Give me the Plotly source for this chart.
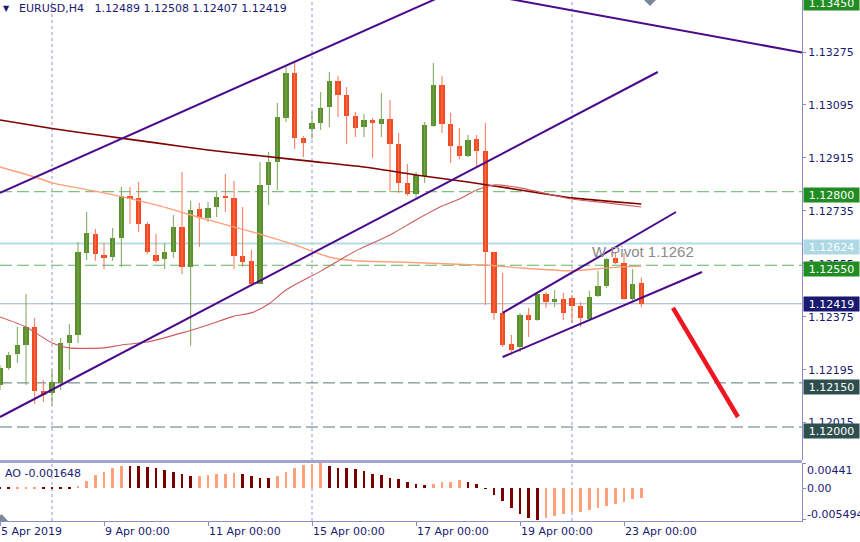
import numpy as np
import plotly.graph_objects as go

# ---------------- data ----------------
bars = list(range(75))
opens = [1.12143, 1.12201, 1.12248, 1.12279, 1.12340, 1.12123, 1.12116, 1.12150, 1.12286, 1.12313,
         1.12592, 1.12656, 1.12585, 1.12578, 1.12643, 1.12786, 1.12779, 1.12690, 1.12585, 1.12571,
         1.12595, 1.12680, 1.12544, 1.12741, 1.12711, 1.12748, 1.12786, 1.12779, 1.12582, 1.12565,
         1.12486, 1.12823, 1.12901, 1.13051, 1.13204, 1.12983, 1.13013, 1.13034, 1.13088, 1.13177,
         1.13129, 1.13058, 1.13020, 1.13044, 1.13030, 1.13047, 1.12962, 1.12830, 1.12792, 1.12854,
         1.13024, 1.13163, 1.13030, 1.12956, 1.12922, 1.12979, 1.12939, 1.12595, 1.12388, 1.12282,
         1.12272, 1.12381, 1.12364, 1.12452, 1.12425, 1.12435, 1.12439, 1.12412, 1.12367, 1.12446,
         1.12480, 1.12575, 1.12558, 1.12435, 1.12489]
highs = [1.12211, 1.12255, 1.12340, 1.12452, 1.12371, 1.12160, 1.12194, 1.12303, 1.12350, 1.12629,
         1.12731, 1.12673, 1.12626, 1.12677, 1.12816, 1.12816, 1.12833, 1.12697, 1.12656, 1.12626,
         1.12721, 1.12867, 1.12769, 1.12762, 1.12765, 1.12803, 1.12860, 1.12837, 1.12748, 1.12602,
         1.12901, 1.12935, 1.13102, 1.13224, 1.13238, 1.12990, 1.13071, 1.13139, 1.13207, 1.13194,
         1.13156, 1.13071, 1.13064, 1.13051, 1.13136, 1.13112, 1.13000, 1.12894, 1.12867, 1.13037,
         1.13238, 1.13194, 1.13068, 1.13017, 1.12993, 1.12993, 1.13034, 1.12595, 1.12524, 1.12313,
         1.12388, 1.12405, 1.12459, 1.12459, 1.12466, 1.12456, 1.12449, 1.12425, 1.12463, 1.12531,
         1.12575, 1.12592, 1.12592, 1.12537, 1.12508]
lows = [1.12126, 1.12194, 1.12218, 1.12143, 1.12078, 1.12085, 1.12075, 1.12126, 1.12194, 1.12286,
        1.12568, 1.12565, 1.12537, 1.12565, 1.12544, 1.12690, 1.12663, 1.12588, 1.12558, 1.12537,
        1.12575, 1.12520, 1.12276, 1.12612, 1.12697, 1.12714, 1.12731, 1.12537, 1.12544, 1.12480,
        1.12486, 1.12755, 1.12806, 1.13037, 1.12945, 1.12918, 1.12979, 1.13010, 1.13020, 1.13054,
        1.12962, 1.12986, 1.12986, 1.12915, 1.12986, 1.12799, 1.12796, 1.12786, 1.12779, 1.12830,
        1.13020, 1.13000, 1.12898, 1.12911, 1.12918, 1.12884, 1.12415, 1.12364, 1.12272, 1.12245,
        1.12255, 1.12306, 1.12361, 1.12405, 1.12408, 1.12364, 1.12354, 1.12340, 1.12367, 1.12442,
        1.12473, 1.12554, 1.12432, 1.12429, 1.12407]
closes = [1.12201, 1.12245, 1.12279, 1.12340, 1.12123, 1.12109, 1.12153, 1.12286, 1.12313, 1.12595,
          1.12660, 1.12588, 1.12575, 1.12643, 1.12786, 1.12775, 1.12690, 1.12595, 1.12565, 1.12595,
          1.12680, 1.12544, 1.12738, 1.12711, 1.12745, 1.12782, 1.12779, 1.12582, 1.12561, 1.12486,
          1.12823, 1.12901, 1.13054, 1.13204, 1.12983, 1.12966, 1.13034, 1.13085, 1.13177, 1.13129,
          1.13058, 1.13017, 1.13044, 1.13034, 1.13047, 1.12962, 1.12830, 1.12792, 1.12857, 1.13027,
          1.13163, 1.13030, 1.12956, 1.12922, 1.12976, 1.12939, 1.12595, 1.12388, 1.12279, 1.12262,
          1.12381, 1.12364, 1.12452, 1.12425, 1.12435, 1.12388, 1.12412, 1.12371, 1.12442, 1.12480,
          1.12571, 1.12558, 1.12435, 1.12486, 1.12419]

ao_values = [0.00020, 0.00015, 0.00018, 0.00022, 0.00026, 0.00022, 0.00018, 0.00014, 0.00010, 0.00040,
             0.00128, 0.00228, 0.00285, 0.00350, 0.00390, 0.00388, 0.00380, 0.00378, 0.00350, 0.00320,
             0.00275, 0.00245, 0.00205, 0.00207, 0.00233, 0.00245, 0.00247, 0.00263, 0.00257, 0.00205,
             0.00175, 0.00172, 0.00215, 0.00275, 0.00362, 0.00403, 0.00415, 0.00441, 0.00390, 0.00362,
             0.00350, 0.00333, 0.00303, 0.00245, 0.00228, 0.00187, 0.00158, 0.00117, 0.00082, 0.00053,
             0.00070, 0.00100, 0.00117, 0.00140, 0.00117, 0.00082, -0.00005, -0.00117, -0.00222, -0.00350,
             -0.00455, -0.00525, -0.005494, -0.00513, -0.00485, -0.00455, -0.00425, -0.00408, -0.00380, -0.00355,
             -0.00320, -0.00280, -0.00233, -0.00193, -0.001648]

ma_slow_bars = [0, 6, 12, 18, 24, 30, 36, 42, 48, 54, 60, 66, 70, 74]
ma_slow = [1.13044, 1.13015, 1.12990, 1.12966, 1.12942, 1.12922, 1.12903, 1.12884, 1.12857, 1.12833,
           1.12806, 1.12779, 1.12768, 1.12758]
ma_mid_bars = [0, 4, 6, 12, 18, 24, 30, 34, 36, 38, 41, 46, 52, 56, 60, 66, 70, 74]
ma_mid = [1.12884, 1.12850, 1.12830, 1.12796, 1.12755, 1.12704, 1.12656, 1.12619, 1.12598, 1.12578,
          1.12565, 1.12561, 1.12554, 1.12551, 1.12541, 1.12531, 1.12541, 1.12547]
ma_fast_bars = [0, 3, 6, 8, 12, 14, 17, 21, 24, 27, 29, 31, 33, 37, 41, 45, 48, 51, 53, 55, 57, 60, 66, 70, 74]
ma_fast = [1.12374, 1.12340, 1.12286, 1.12269, 1.12269, 1.12279, 1.12289, 1.12320, 1.12347, 1.12377,
           1.12388, 1.12418, 1.12466, 1.12530, 1.12598, 1.12653, 1.12704, 1.12751, 1.12775, 1.12806,
           1.12823, 1.12813, 1.12775, 1.12762, 1.12748]

# drawn trend lines (bar index, price)
big_top_bars, big_top = [0, 60], [1.12796, 1.13583]
big_bot_bars, big_bot = [0, 75.9], [1.12034, 1.13207]
down_line_bars, down_line = [57, 93], [1.13465, 1.13271]
small_top_bars, small_top = [58, 78], [1.12388, 1.12731]
small_bot_bars, small_bot = [58, 81], [1.12238, 1.12527]
arrow_bars, arrow_prices = [77.65, 85.15], [1.12405, 1.12034]

green_levels = [1.12800, 1.12550]
dark_levels = [1.12150, 1.12000]
pivot_level = 1.12624
bid_price = 1.12419
top_level = 1.13450
pivot_text_bar = 68.05

price_ticks = [1.13275, 1.13095, 1.12915, 1.12735, 1.12555, 1.12375, 1.12195, 1.12015]
ao_ticks = [0.00441, 0.0, -0.005494]
ao_tick_text = ["0.00441", "0.00", "-0.005494"]
time_tick_bars = [0, 12, 24, 36, 48, 60, 72]
time_tick_labels = ["5 Apr 2019", "9 Apr 00:00", "11 Apr 00:00", "15 Apr 00:00",
                    "17 Apr 00:00", "19 Apr 00:00", "23 Apr 00:00"]
week_grid_bars = [6, 36, 66]

# ---------------- styling ----------------
FONT = "DejaVu Sans"
NAVY = "#1a1a72"
AXIS = "#8c8cc4"
GREEN_BODY = "#5a8f2a"
RED_BODY = "#f24a20"
GREEN_WICK = "#78a656"
RED_WICK = "#f27454"
AO_UP = "#ffa07a"
AO_DN = "#7a0000"

x = np.array(bars, dtype=float)
o = np.array(opens); h = np.array(highs); l = np.array(lows); c = np.array(closes)
up = c >= o
body_base = np.minimum(o, c)
body_h = np.maximum(np.abs(c - o), 0.00003)


def wick_xy(mask):
    xs, ys = [], []
    for i in np.where(mask)[0]:
        xs += [x[i], x[i], None]
        ys += [l[i], h[i], None]
    return xs, ys


fig = go.Figure()

# wicks
for mask, col in ((up, GREEN_WICK), (~up, RED_WICK)):
    wx, wy = wick_xy(mask)
    fig.add_trace(go.Scatter(x=wx, y=wy, mode="lines", line=dict(color=col, width=1),
                             hoverinfo="skip", showlegend=False, xaxis="x", yaxis="y"))
# bodies
for mask, col in ((up, GREEN_BODY), (~up, RED_BODY)):
    fig.add_trace(go.Bar(x=x[mask], y=body_h[mask], base=body_base[mask], width=0.62,
                         marker=dict(color=col, line=dict(width=0)),
                         showlegend=False, xaxis="x", yaxis="y"))

# moving averages
fig.add_trace(go.Scatter(x=ma_slow_bars, y=ma_slow, mode="lines",
                         line=dict(color="#800000", width=1.6, shape="spline", smoothing=0.6),
                         showlegend=False, xaxis="x", yaxis="y"))
fig.add_trace(go.Scatter(x=ma_mid_bars, y=ma_mid, mode="lines",
                         line=dict(color="#ffa07a", width=1.4, shape="spline", smoothing=0.6),
                         showlegend=False, xaxis="x", yaxis="y"))
fig.add_trace(go.Scatter(x=ma_fast_bars, y=ma_fast, mode="lines",
                         line=dict(color="#cd5c5c", width=1.1, shape="spline", smoothing=0.6),
                         showlegend=False, xaxis="x", yaxis="y"))

# trend lines
for bx, by in ((big_top_bars, big_top), (big_bot_bars, big_bot), (down_line_bars, down_line),
               (small_top_bars, small_top), (small_bot_bars, small_bot)):
    fig.add_trace(go.Scatter(x=bx, y=by, mode="lines", line=dict(color="#4b0a8c", width=2),
                             showlegend=False, xaxis="x", yaxis="y"))
fig.add_trace(go.Scatter(x=arrow_bars, y=arrow_prices, mode="lines",
                         line=dict(color="#ee1620", width=4.5),
                         showlegend=False, xaxis="x", yaxis="y"))

# AO histogram
ao = np.array(ao_values)
ao_up = np.concatenate([[False], ao[1:] > ao[:-1]])
fig.add_trace(go.Bar(x=x, y=ao, width=0.3,
                     marker=dict(color=[AO_UP if u else AO_DN for u in ao_up], line=dict(width=0)),
                     showlegend=False, xaxis="x2", yaxis="y2"))

# ---------------- shapes ----------------
shapes = []
for b in week_grid_bars:
    shapes.append(dict(type="line", xref="x", yref="paper", x0=b, x1=b, y0=0, y1=1,
                       line=dict(color="#9494cc", width=1, dash="dot"), layer="below"))
for p in green_levels:
    shapes.append(dict(type="line", xref="x domain", yref="y", x0=0, x1=1, y0=p, y1=p,
                       line=dict(color="#5db45d", width=1, dash="12px,5px"), layer="below"))
for p in dark_levels:
    shapes.append(dict(type="line", xref="x domain", yref="y", x0=0, x1=1, y0=p, y1=p,
                       line=dict(color="#587878", width=1, dash="12px,5px"), layer="below"))
shapes.append(dict(type="line", xref="x domain", yref="y", x0=0, x1=1, y0=pivot_level, y1=pivot_level,
                   line=dict(color="#b4dbe8", width=2), layer="below"))
shapes.append(dict(type="line", xref="x domain", yref="y", x0=0, x1=1, y0=bid_price, y1=bid_price,
                   line=dict(color="#a3b0c0", width=1), layer="below"))
# window separator
H = 521.0
shapes.append(dict(type="rect", xref="paper", yref="paper", x0=0, x1=1,
                   y0=(H - 463) / H, y1=(H - 460) / H, line=dict(width=0), fillcolor="#a4a4d0"))
# shift marker triangles
shapes.append(dict(type="path", xref="paper", yref="paper",
                   path="M %f,%f L %f,%f L %f,%f Z" % (642 / 802, 1 + 2 / H, 658 / 802, 1 + 2 / H, 650 / 802, 1 - 6 / H),
                   fillcolor="#7a8896", line=dict(width=0)))
shapes.append(dict(type="path", xref="paper", yref="paper",
                   path="M %f,%f L %f,%f L %f,%f Z" % (-5 / 802, 0, 8 / 802, 0, 1.5 / 802, 7 / H),
                   fillcolor="#7a8896", line=dict(width=0)))

# ---------------- annotations ----------------
ann = []
def price_box(p, bg, yshift, fg="white"):
    ann.append(dict(xref="paper", yref="y", x=1, y=p, xanchor="left", yanchor="middle",
                    xshift=1, yshift=yshift, text="%.5f" % p, showarrow=False,
                    bgcolor=bg, width=53, height=12, borderpad=1, align="center",
                    font=dict(family=FONT, size=11, color=fg)))

price_box(top_level, "#218c21", -2)
price_box(green_levels[0], "#218c21", -3.5)
price_box(pivot_level, "#add8e6", -4)
price_box(green_levels[1], "#218c21", -4)
price_box(bid_price, "#191970", 0)
price_box(dark_levels[0], "#2f4f4f", -4)
price_box(dark_levels[1], "#2f4f4f", -3.5)

for v, t, ys in zip(ao_ticks, ao_tick_text, (-7, 0, 5.5)):
    ann.append(dict(xref="paper", yref="y2", x=1, y=v, xanchor="left", yanchor="middle",
                    xshift=3, yshift=ys, text=t, showarrow=False,
                    font=dict(family=FONT, size=11, color=NAVY)))

ann.append(dict(xref="paper", yref="paper", x=17 / 802, y=1, xanchor="left", yanchor="middle",
                yshift=-8.5, showarrow=False,
                text="EURUSD,H4\u00a0\u00a0 %.5f %.5f %.5f %.5f" % (opens[-1], highs[-1], lows[-1], closes[-1]),
                font=dict(family=FONT, size=11, color=NAVY)))
ann.append(dict(xref="paper", yref="paper", x=6.5 / 802, y=1, xanchor="center", yanchor="middle",
                yshift=-8, showarrow=False, text="\u25bc",
                font=dict(family=FONT, size=8, color=NAVY)))
ann.append(dict(xref="paper", yref="y2 domain", x=3 / 802, y=1, xanchor="left", yanchor="top",
                yshift=-2, showarrow=False, text="AO %.6f" % ao_values[-1],
                font=dict(family=FONT, size=11, color=NAVY)))
ann.append(dict(xref="x", yref="y", x=pivot_text_bar, y=pivot_level, xanchor="left", yanchor="middle",
                yshift=-8.5, showarrow=False, text="W Pivot %.4f" % pivot_level,
                font=dict(family="Liberation Sans", size=15, color="#8a8a8a")))

# ---------------- layout ----------------
xr = [0, 802 / 8.6667]
fig.update_layout(
    width=860, height=542,
    margin=dict(l=0, r=58, t=0, b=21),
    paper_bgcolor="white", plot_bgcolor="white",
    barmode="overlay", bargap=0,
    showlegend=False,
    font=dict(family=FONT, size=11, color=NAVY),
    xaxis=dict(domain=[0, 1], range=xr, anchor="y", showticklabels=False, showgrid=False,
               zeroline=False, showline=False, ticks=""),
    xaxis2=dict(domain=[0, 1], range=xr, anchor="y2", matches="x", showgrid=False, zeroline=False,
                showline=True, linecolor=AXIS, linewidth=1,
                ticks="outside", ticklen=4, tickcolor=AXIS,
                tickvals=time_tick_bars, ticktext=time_tick_labels,
                ticklabelposition="outside right",
                tickfont=dict(family=FONT, size=11, color=NAVY)),
    yaxis=dict(domain=[(H - 460) / H, 1], range=[1.118878, 1.134518], anchor="x", side="right",
               showgrid=False, zeroline=False, showline=True, linecolor=AXIS, linewidth=1,
               ticks="outside", ticklen=3, tickcolor=AXIS,
               tickvals=price_ticks, ticktext=["%.5f" % t for t in price_ticks],
               tickfont=dict(family=FONT, size=11, color=NAVY)),
    yaxis2=dict(domain=[0, (H - 463) / H], range=[-0.00574, 0.00441], anchor="x2", side="right",
                showgrid=False, zeroline=False, showline=True, linecolor=AXIS, linewidth=1,
                ticks="outside", ticklen=3, tickcolor=AXIS, tickvals=ao_ticks,
                showticklabels=False),
    shapes=shapes,
    annotations=ann,
)

fig.write_html("out.html", config={"displayModeBar": False},
               post_script="document.body.style.margin='0px';document.body.style.overflow='hidden';")
